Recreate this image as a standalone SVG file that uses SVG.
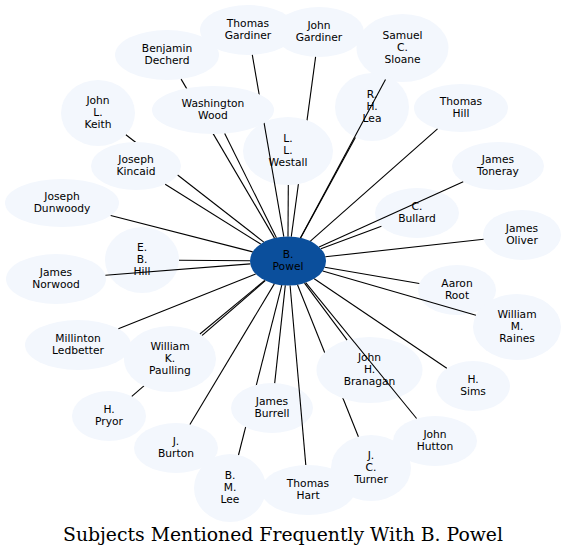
<svg xmlns="http://www.w3.org/2000/svg" width="567" height="557" viewBox="0 0 567 557">
<style>
.n ellipse{fill:#f3f7fd;stroke:none}
#powel ellipse{fill:#0b4f9c}
text{font-family:"DejaVu Sans","Liberation Sans",sans-serif;font-size:10.7px;fill:#000;text-anchor:middle}
.e path{stroke:#000;stroke-width:1.1;fill:none}
.title{font-family:"DejaVu Serif","Liberation Serif",serif;font-size:18px}
</style>
<defs>
<mask id="m-ww" maskUnits="userSpaceOnUse" x="0" y="0" width="567" height="557"><rect width="567" height="557" fill="#fff"/><ellipse cx="213" cy="110" rx="61" ry="24" fill="#000"/></mask>
<mask id="m-jk" maskUnits="userSpaceOnUse" x="0" y="0" width="567" height="557"><rect width="567" height="557" fill="#fff"/><ellipse cx="136" cy="166" rx="45" ry="24" fill="#000"/></mask>
<mask id="m-wkp" maskUnits="userSpaceOnUse" x="0" y="0" width="567" height="557"><rect width="567" height="557" fill="#fff"/><ellipse cx="170" cy="359" rx="46" ry="33" fill="#000"/></mask>
<mask id="m-jb" maskUnits="userSpaceOnUse" x="0" y="0" width="567" height="557"><rect width="567" height="557" fill="#fff"/><ellipse cx="272" cy="408" rx="41" ry="25" fill="#000"/></mask>
<mask id="m-jhb" maskUnits="userSpaceOnUse" x="0" y="0" width="567" height="557"><rect width="567" height="557" fill="#fff"/><ellipse cx="369.5" cy="370" rx="53" ry="33" fill="#000"/></mask>
<mask id="m-llw" maskUnits="userSpaceOnUse" x="0" y="0" width="567" height="557"><rect width="567" height="557" fill="#fff"/><ellipse cx="288" cy="151" rx="45" ry="34" fill="#000"/></mask>
</defs>
<rect width="567" height="557" fill="#fff"/>
<g id="nodes">
<g id="thomas-gardiner" class="n"><ellipse cx="248" cy="30" rx="48" ry="25"/><text x="248" y="27">Thomas</text><text x="248" y="39">Gardiner</text></g>
<g id="john-gardiner" class="n"><ellipse cx="319" cy="32" rx="45" ry="25"/><text x="319" y="29">John</text><text x="319" y="41">Gardiner</text></g>
<g id="samuel-c-sloane" class="n"><ellipse cx="402.5" cy="48" rx="46" ry="34"/><text x="402.5" y="39">Samuel</text><text x="402.5" y="51">C.</text><text x="402.5" y="63">Sloane</text></g>
<g id="benjamin-decherd" class="n"><ellipse cx="167" cy="55" rx="52" ry="25"/><text x="167" y="52">Benjamin</text><text x="167" y="64">Decherd</text></g>
<g id="washington-wood" class="n"><ellipse cx="213" cy="110" rx="61" ry="24"/><text x="213" y="107">Washington</text><text x="213" y="119">Wood</text></g>
<g id="john-l-keith" class="n"><ellipse cx="98" cy="113" rx="37" ry="33"/><text x="98" y="104">John</text><text x="98" y="116">L.</text><text x="98" y="128">Keith</text></g>
<g id="r-h-lea" class="n"><ellipse cx="372" cy="107" rx="37" ry="34"/><text x="372" y="98">R.</text><text x="372" y="110">H.</text><text x="372" y="122">Lea</text></g>
<g id="thomas-hill" class="n"><ellipse cx="461" cy="108" rx="47" ry="24"/><text x="461" y="105">Thomas</text><text x="461" y="117">Hill</text></g>
<g id="l-l-westall" class="n"><ellipse cx="288" cy="151" rx="45" ry="34"/><text x="288" y="142">L.</text><text x="288" y="154">L.</text><text x="288" y="166">Westall</text></g>
<g id="joseph-kincaid" class="n"><ellipse cx="136" cy="166" rx="45" ry="24"/><text x="136" y="163">Joseph</text><text x="136" y="175">Kincaid</text></g>
<g id="james-toneray" class="n"><ellipse cx="498" cy="166" rx="46" ry="24"/><text x="498" y="163">James</text><text x="498" y="175">Toneray</text></g>
<g id="joseph-dunwoody" class="n"><ellipse cx="62" cy="203" rx="57" ry="24"/><text x="62" y="200">Joseph</text><text x="62" y="212">Dunwoody</text></g>
<g id="c-bullard" class="n"><ellipse cx="417" cy="213" rx="42" ry="25"/><text x="417" y="210">C.</text><text x="417" y="222">Bullard</text></g>
<g id="james-oliver" class="n"><ellipse cx="522" cy="235" rx="39" ry="25"/><text x="522" y="232">James</text><text x="522" y="244">Oliver</text></g>
<g id="e-b-hill" class="n"><ellipse cx="142" cy="260" rx="37" ry="33"/><text x="142" y="251">E.</text><text x="142" y="263">B.</text><text x="142" y="275">Hill</text></g>
<g id="james-norwood" class="n"><ellipse cx="56" cy="279" rx="50" ry="25"/><text x="56" y="276">James</text><text x="56" y="288">Norwood</text></g>
<g id="aaron-root" class="n"><ellipse cx="457" cy="290" rx="39" ry="25"/><text x="457" y="287">Aaron</text><text x="457" y="299">Root</text></g>
<g id="william-m-raines" class="n"><ellipse cx="517" cy="327" rx="44" ry="33"/><text x="517" y="318">William</text><text x="517" y="330">M.</text><text x="517" y="342">Raines</text></g>
<g id="millinton-ledbetter" class="n"><ellipse cx="78" cy="345" rx="53" ry="25"/><text x="78" y="342">Millinton</text><text x="78" y="354">Ledbetter</text></g>
<g id="william-k-paulling" class="n"><ellipse cx="170" cy="359" rx="46" ry="33"/><text x="170" y="350">William</text><text x="170" y="362">K.</text><text x="170" y="374">Paulling</text></g>
<g id="john-h-branagan" class="n"><ellipse cx="369.5" cy="370" rx="53" ry="33"/><text x="369.5" y="361">John</text><text x="369.5" y="373">H.</text><text x="369.5" y="385">Branagan</text></g>
<g id="h-sims" class="n"><ellipse cx="473" cy="386" rx="37" ry="25"/><text x="473" y="383">H.</text><text x="473" y="395">Sims</text></g>
<g id="james-burrell" class="n"><ellipse cx="272" cy="408" rx="41" ry="25"/><text x="272" y="405">James</text><text x="272" y="417">Burrell</text></g>
<g id="h-pryor" class="n"><ellipse cx="109" cy="416" rx="37" ry="25"/><text x="109" y="413">H.</text><text x="109" y="425">Pryor</text></g>
<g id="john-hutton" class="n"><ellipse cx="435" cy="441" rx="42" ry="25"/><text x="435" y="438">John</text><text x="435" y="450">Hutton</text></g>
<g id="j-burton" class="n"><ellipse cx="176" cy="448" rx="42" ry="25"/><text x="176" y="445">J.</text><text x="176" y="457">Burton</text></g>
<g id="j-c-turner" class="n"><ellipse cx="371" cy="468" rx="40" ry="33"/><text x="371" y="459">J.</text><text x="371" y="471">C.</text><text x="371" y="483">Turner</text></g>
<g id="b-m-lee" class="n"><ellipse cx="230" cy="488" rx="36" ry="34"/><text x="230" y="479">B.</text><text x="230" y="491">M.</text><text x="230" y="503">Lee</text></g>
<g id="thomas-hart" class="n"><ellipse cx="308" cy="490" rx="47" ry="25"/><text x="308" y="487">Thomas</text><text x="308" y="499">Hart</text></g>
<g id="powel" class="n"><ellipse cx="288" cy="261" rx="38" ry="24.5"/><text x="288" y="258">B.</text><text x="288" y="270">Powel</text></g>
</g>
<g id="connectors" class="e">
<path d="M283.8,236.7L252.3,54.9" mask="url(#m-ww)"/>
<path d="M291.3,236.6L315.6,56.9" mask="url(#m-llw)"/>
<path d="M300.4,237.9L385.5,79.6"/>
<path d="M274.5,238.1L181.1,79.1" mask="url(#m-ww)"/>
<path d="M276.4,237.7L224.7,133.6"/>
<path d="M263.8,242.1L125.9,134.7" mask="url(#m-jk)"/>
<path d="M300.6,237.9L355.4,137.4"/>
<path d="M310.4,241.2L437.5,128.8"/>
<path d="M288,236.5L288.3,185"/>
<path d="M260.7,244.0L165.2,184.3"/>
<path d="M319.1,246.9L463.2,181.7"/>
<path d="M252.7,251.9L110.7,215.5"/>
<path d="M320.9,248.8L381.4,226.3"/>
<path d="M325.4,256.8L483.6,239.3"/>
<path d="M250,260.7L179,260.3"/>
<path d="M250.3,263.9L105.4,275.2"/>
<path d="M324.7,267.3L419.3,283.5"/>
<path d="M322.7,271.0L475.9,315.2"/>
<path d="M255.7,273.9L118.4,328.8"/>
<path d="M264.7,280.4L199.9,334.0"/>
<path d="M304.5,283.1L347.1,340.1"/>
<path d="M314.2,278.7L446.8,368.3"/>
<path d="M285.3,285.4L274.7,383.1"/>
<path d="M265.3,280.7L131.8,396.3" mask="url(#m-wkp)"/>
<path d="M305.7,282.7L416.6,418.5"/>
<path d="M274.3,283.9L189.9,424.5"/>
<path d="M297.5,284.7L358.4,436.7" mask="url(#m-jhb)"/>
<path d="M281.8,285.2L238.5,455.0" mask="url(#m-jb)"/>
<path d="M290.1,285.5L305.8,465.0"/>
</g>
<text class="title" x="283" y="541" textLength="440" lengthAdjust="spacingAndGlyphs">Subjects Mentioned Frequently With B. Powel</text>
</svg>
